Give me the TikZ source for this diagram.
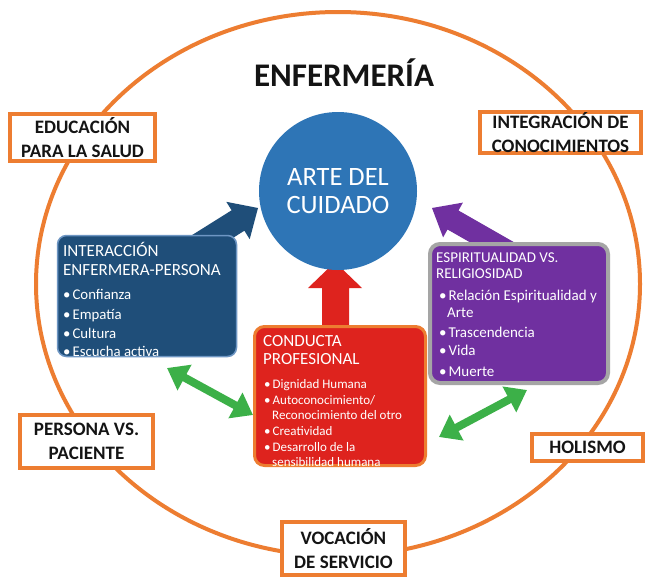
\documentclass[tikz,border=0pt]{standalone}
\usepackage{fontspec}
\setmainfont{Carlito}
\usetikzlibrary{arrows.meta}
\definecolor{orng}{RGB}{237,125,49}
\definecolor{circblue}{RGB}{46,117,182}
\definecolor{boxblue}{RGB}{31,78,121}
\definecolor{boxblueedge}{RGB}{110,150,195}
\definecolor{boxred}{RGB}{222,35,30}
\definecolor{boxpurple}{RGB}{112,48,160}
\definecolor{boxgray}{RGB}{165,165,165}
\definecolor{grn}{RGB}{60,176,72}
\definecolor{txtdark}{RGB}{20,20,20}
\begin{document}
\begin{tikzpicture}[x=1pt,y=-1pt,
  lbl/.style={draw=orng, line width=4pt, fill=white, text=txtdark,
    font=\bfseries\fontsize{19}{23.5}\selectfont, align=center, inner sep=0pt},
  txt/.style={anchor=base west, inner sep=0pt, text=white},
  tbig/.style={txt, font=\fontsize{17}{19}\selectfont},
  tmid/.style={txt, font=\fontsize{14.8}{17}\selectfont},
  tpur/.style={txt, font=\fontsize{15}{17}\selectfont},
  tsmall/.style={txt, font=\fontsize{13}{15}\selectfont},
  gdbl/.style={grn, line width=8pt,
    {Triangle[width=28pt,length=20pt]}-{Triangle[width=28pt,length=20pt]}}
]
\useasboundingbox (0,0) rectangle (650,584);
\fill[white] (0,0) rectangle (650,584);

% outer ring
\draw[orng, line width=4pt] (338,284) ellipse [x radius=302pt, y radius=272pt];

% labels on the ring
\node[lbl, minimum width=145pt, minimum height=47pt] (edu) at (82.5,137.5) {EDUCACIÓN\\PARA LA SALUD};
\node[lbl, minimum width=161pt, minimum height=41pt] (integ) at (560.5,132.5) {INTEGRACIÓN DE\\CONOCIMIENTOS};
\node[lbl, minimum width=133pt, minimum height=53pt] (pers) at (86.5,441.5) {PERSONA VS.\\PACIENTE};
\node[lbl, minimum width=111pt, minimum height=27pt] (hol) at (587.5,447.5) {HOLISMO};
\node[lbl, minimum width=123pt, minimum height=53pt] (voc) at (343.5,548.5) {VOCACIÓN\\DE SERVICIO};

% title
\node[inner sep=0pt, text=txtdark, font=\bfseries\fontsize{33}{36}\selectfont] (title) at (344,73) {ENFERMERÍA};

% block arrows
\fill[boxblue] (185.0,239.5) -- (231.6,210.3) -- (226.3,201.8) -- (258,208) -- (249.7,239.2) -- (244.4,230.7) -- (197.8,259.9) -- cycle;
\fill[boxpurple] (514.9,242.7) -- (458.5,210.5) -- (462.9,202.6) -- (432,208) -- (443.1,237.4) -- (447.5,229.5) -- (503.9,261.7) -- cycle;
\fill[boxred] (322,326) -- (322,288) -- (308,288) -- (335,262) -- (362,288) -- (349,288) -- (349,326) -- cycle;

% central circle
\node[circle, fill=circblue, minimum size=158pt, inner sep=0pt, text=white,
  font=\fontsize{26.5}{28}\selectfont, align=center] (arte) at (338,191) {ARTE DEL\\CUIDADO};

% blue box
\node[rounded corners=9pt, fill=boxblue, draw=boxblueedge, line width=1.5pt,
  minimum width=179pt, minimum height=121pt, inner sep=0pt] (inter) at (147,296) {};
\node[tbig] (i1) at (63,256) {INTERACCIÓN};
\node[tbig] (i2) at (63,275) {ENFERMERA-PERSONA};
\node[tmid] (i3) at (63,299) {•\hspace{2pt}Confianza};
\node[tmid] (i4) at (63,319) {•\hspace{2pt}Empatía};
\node[tmid] (i5) at (63,338) {•\hspace{2pt}Cultura};
\node[tmid] (i6) at (63,356) {•\hspace{2pt}Escucha activa};

% purple box
\node[rounded corners=10pt, fill=boxpurple, draw=boxgray, line width=4pt,
  minimum width=178pt, minimum height=139pt, inner sep=0pt] (espi) at (519,313.5) {};
\node[tpur] (e1) at (436,262) {ESPIRITUALIDAD VS.};
\node[tpur] (e2) at (436,278) {RELIGIOSIDAD};
\node[tpur] (e3) at (439,300) {•\hspace{2pt}Relación Espiritualidad y};
\node[tpur] (e4) at (447,317) {Arte};
\node[tpur] (e5) at (439,337) {•\hspace{2pt}Trascendencia};
\node[tpur] (e6) at (439,355) {•\hspace{2pt}Vida};
\node[tpur] (e7) at (439,376) {•\hspace{2pt}Muerte};

% red box
\node[rounded corners=10pt, fill=boxred, draw=orng, line width=3pt,
  minimum width=171pt, minimum height=139pt, inner sep=0pt] (cond) at (340,396) {};
\node[tbig] (c1) at (263,346) {CONDUCTA};
\node[tbig] (c2) at (263,364) {PROFESIONAL};
\node[tsmall] (c3) at (264,388) {•\hspace{2pt}Dignidad Humana};
\node[tsmall] (c4) at (264,404) {•\hspace{2pt}Autoconocimiento/};
\node[tsmall] (c5) at (272,419) {Reconocimiento del otro};
\node[tsmall] (c6) at (264,435) {•\hspace{2pt}Creatividad};
\node[tsmall] (c7) at (264,451) {•\hspace{2pt}Desarrollo de la};
\node[tsmall] (c8) at (272,466) {sensibilidad humana};

% green double arrows
\coordinate (gl1) at (167,368);
\coordinate (gl2) at (253,415);
\coordinate (gr1) at (439,437);
\coordinate (gr2) at (527,390);
\draw[gdbl] (gl1) -- (gl2);
\draw[gdbl] (gr1) -- (gr2);
\end{tikzpicture}
\end{document}
